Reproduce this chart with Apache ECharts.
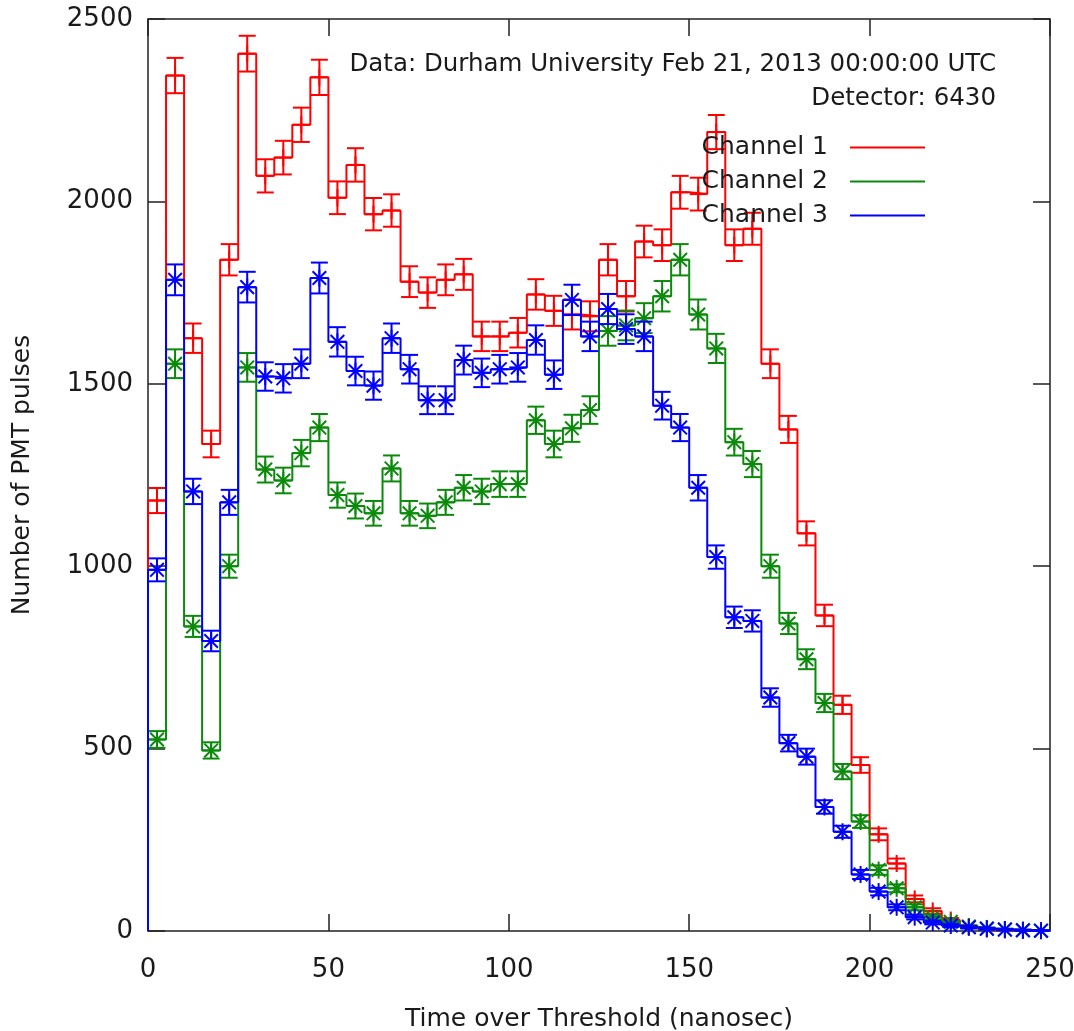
<!DOCTYPE html>
<html>
<head>
<meta charset="utf-8">
<title>PMT pulse time over threshold</title>
<script src="https://cdn.jsdelivr.net/npm/echarts@6/dist/echarts.min.js"></script>
<style>
  html, body { margin: 0; padding: 0; background: #ffffff; }
  #chart { width: 1074px; height: 1031px; }
</style>
</head>
<body>
<div id="chart"></div>
<script>
// Histogram bins: 5 ns wide, listed by their centre (ns)
const binCenters = [
  2.5, 7.5, 12.5, 17.5, 22.5, 27.5, 32.5, 37.5, 42.5, 47.5,
  52.5, 57.5, 62.5, 67.5, 72.5, 77.5, 82.5, 87.5, 92.5, 97.5,
  102.5, 107.5, 112.5, 117.5, 122.5, 127.5, 132.5, 137.5, 142.5, 147.5,
  152.5, 157.5, 162.5, 167.5, 172.5, 177.5, 182.5, 187.5, 192.5, 197.5,
  202.5, 207.5, 212.5, 217.5, 222.5, 227.5, 232.5, 237.5, 242.5, 247.5
];

// Pulse counts per bin, one list per PMT channel
const channel1 = [
  1180, 2345, 1625, 1335, 1840, 2405, 2070, 2120, 2210, 2340,
  2010, 2100, 1965, 1975, 1780, 1750, 1785, 1800, 1630, 1630,
  1640, 1745, 1700, 1690, 1685, 1840, 1740, 1890, 1880, 2025,
  2020, 2190, 1880, 1925, 1555, 1375, 1090, 865, 620, 455,
  265, 185, 88, 55, 30, 12, 6, 3, 2, 1
];
const channel2 = [
  525, 1555, 835, 495, 1000, 1545, 1265, 1235, 1310, 1380,
  1195, 1165, 1145, 1268, 1145, 1138, 1175, 1215, 1205, 1225,
  1225, 1400, 1335, 1378, 1428, 1645, 1660, 1680, 1740, 1840,
  1690, 1597, 1340, 1280, 1000, 843, 745, 625, 437, 300,
  167, 117, 65, 38, 25, 12, 7, 4, 2, 1
];
const channel3 = [
  990, 1785, 1205, 795, 1175, 1765, 1520, 1515, 1555, 1790,
  1615, 1535, 1495, 1625, 1540, 1455, 1455, 1565, 1530, 1540,
  1545, 1620, 1525, 1730, 1630, 1705, 1650, 1630, 1440, 1380,
  1215, 1025, 860, 850, 640, 515, 478, 340, 272, 155,
  108, 65, 38, 23, 15, 10, 6, 4, 2, 1
];

const channelNames = ['Channel 1', 'Channel 2', 'Channel 3'];
const channelColors = ['#ff0000', '#0a8a0a', '#0000ff'];
const channelMarkers = ['plus', 'asterisk', 'asterisk'];

const xTicks = { min: 0, max: 250, step: 50 };
const yTicks = { min: 0, max: 2500, step: 500 };

const annotation = ['Data: Durham University Feb 21, 2013 00:00:00 UTC', 'Detector: 6430'];

const FONT = 'DejaVu Sans';
const TEXT = '#1a1a1a';
const BIN_HALF = 2.5;

// Outline of a histogram drawn as steps: rises from zero at the first edge,
// then a flat run across every bin.
function stepOutline(values) {
  const pts = [[binCenters[0] - BIN_HALF, 0]];
  values.forEach((v, i) => {
    pts.push([binCenters[i] - BIN_HALF, v]);
    pts.push([binCenters[i] + BIN_HALF, v]);
  });
  return pts;
}

// Error bar (Poisson counting error, sqrt N) with wide caps and a point marker.
function errorBarRenderer(color, marker) {
  return function (params, api) {
    const x = api.value(0);
    const v = api.value(1);
    const err = Math.sqrt(v);
    const c = api.coord([x, v]);
    const top = api.coord([x, v + err]);
    const bot = api.coord([x, Math.max(v - err, 0)]);
    const hw = api.size([2.35, 0])[0];
    const style = { stroke: color, lineWidth: 2, fill: null };
    const seg = (x1, y1, x2, y2) => ({ type: 'line', shape: { x1, y1, x2, y2 }, style });
    const kids = [
      seg(c[0], top[1], c[0], bot[1]),
      seg(c[0] - hw, top[1], c[0] + hw, top[1]),
      seg(c[0] - hw, bot[1], c[0] + hw, bot[1])
    ];
    const r = 8.5;
    kids.push(seg(c[0] - r, c[1], c[0] + r, c[1]));
    kids.push(seg(c[0], c[1] - r, c[0], c[1] + r));
    if (marker === 'asterisk') {
      const d = r * 0.8;
      kids.push(seg(c[0] - d, c[1] - d, c[0] + d, c[1] + d));
      kids.push(seg(c[0] - d, c[1] + d, c[0] + d, c[1] - d));
    }
    return { type: 'group', children: kids };
  };
}

const channels = [channel1, channel2, channel3];
const series = [];
channels.forEach((values, k) => {
  series.push({
    name: channelNames[k],
    type: 'line',
    data: stepOutline(values),
    symbol: 'none',
    showSymbol: false,
    color: channelColors[k],
    lineStyle: { width: 2, color: channelColors[k] },
    silent: true,
    animation: false,
    z: 2 + k
  });
  series.push({
    name: channelNames[k] + ' errors',
    type: 'custom',
    data: binCenters.map((x, i) => [x, values[i]]),
    renderItem: errorBarRenderer(channelColors[k], channelMarkers[k]),
    silent: true,
    animation: false,
    z: 2 + k
  });
});

// Fresh style objects for every axis (ticks point into the frame on all four sides)
function tickStyle() {
  return { show: true, inside: true, length: 17, lineStyle: { color: '#222', width: 1.5 } };
}
function labelStyle(size, extra) {
  return Object.assign({ fontSize: size, color: TEXT, fontFamily: FONT }, extra || {});
}
function hiddenLine() {
  return { show: false, onZero: false };
}

const chart = echarts.init(document.getElementById('chart'), null, { renderer: 'canvas' });
chart.setOption({
  backgroundColor: '#ffffff',
  animation: false,
  grid: {
    left: 148, top: 19, width: 902, height: 912,
    outerBoundsMode: 'none',
    containLabel: false,
    show: true, borderColor: '#222', borderWidth: 1.5, backgroundColor: 'transparent'
  },
  xAxis: [
    {
      type: 'value', position: 'bottom',
      min: xTicks.min, max: xTicks.max, interval: xTicks.step,
      axisLine: hiddenLine(), axisTick: tickStyle(), splitLine: { show: false },
      axisLabel: labelStyle(26, { margin: 26, formatter: (v) => String(v) }),
      name: 'Time over Threshold (nanosec)', nameLocation: 'middle', nameGap: 76,
      nameTextStyle: labelStyle(25)
    },
    {
      type: 'value', position: 'top',
      min: xTicks.min, max: xTicks.max, interval: xTicks.step,
      axisLine: hiddenLine(), axisTick: tickStyle(), splitLine: { show: false },
      axisLabel: { show: false }
    }
  ],
  yAxis: [
    {
      type: 'value', position: 'left',
      min: yTicks.min, max: yTicks.max, interval: yTicks.step,
      axisLine: hiddenLine(), axisTick: tickStyle(), splitLine: { show: false },
      axisLabel: labelStyle(26, { margin: 15, formatter: (v) => String(v) }),
      name: 'Number of PMT pulses', nameLocation: 'middle', nameGap: 113,
      nameTextStyle: labelStyle(25)
    },
    {
      type: 'value', position: 'right',
      min: yTicks.min, max: yTicks.max, interval: yTicks.step,
      axisLine: hiddenLine(), axisTick: tickStyle(), splitLine: { show: false },
      axisLabel: { show: false }
    }
  ],
  legend: {
    data: channelNames,
    orient: 'vertical',
    align: 'right',
    right: 149,
    top: 135,
    padding: 0,
    icon: 'rect',
    itemWidth: 75,
    itemHeight: 2,
    itemGap: 9,
    selectedMode: false,
    textStyle: {
      fontSize: 25, color: TEXT, fontFamily: FONT, lineHeight: 25,
      padding: [0, 17, 0, 0]
    }
  },
  graphic: [
    {
      type: 'text', x: 996, y: 65, silent: true,
      style: { text: annotation[0], align: 'right', verticalAlign: 'middle',
               fontSize: 24.5, fontFamily: FONT, fill: TEXT }
    },
    {
      type: 'text', x: 996, y: 99, silent: true,
      style: { text: annotation[1], align: 'right', verticalAlign: 'middle',
               fontSize: 24.5, fontFamily: FONT, fill: TEXT }
    }
  ],
  series: series
});
</script>
</body>
</html>
